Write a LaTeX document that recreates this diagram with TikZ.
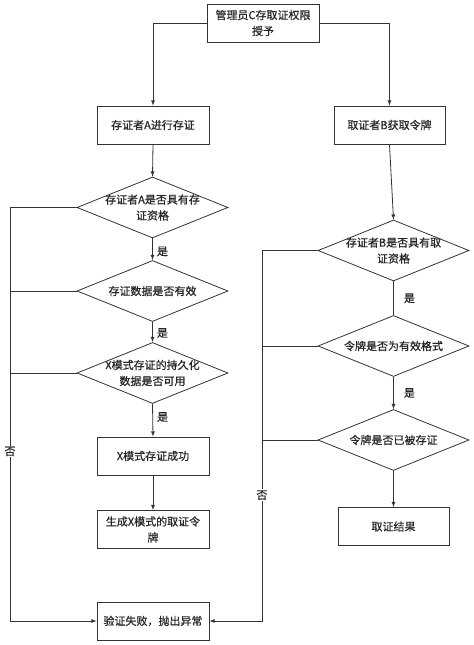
\documentclass[tikz,border=0pt]{standalone}
\usepackage{fontspec}
\setmainfont{Noto Sans CJK SC}[FakeBold=0.6]
\usepackage{tikz}
\usetikzlibrary{arrows,shapes.geometric}

\begin{document}
\begin{tikzpicture}[x=1bp,y=1bp,
		font=\fontsize{11bp}{16bp}\selectfont,
		box/.style={rectangle,draw=black!80,line width=0.8bp,minimum width=112bp,minimum height=38bp,align=center,inner sep=2bp,text=black!85},
		decision/.style={diamond,draw=black!80,line width=0.8bp,minimum width=151bp,minimum height=61bp,inner sep=0pt},
		dtext/.style={align=center,text=black!85},
		line/.style={draw=black!80,line width=0.8bp},
		arr/.style={line,-latex},
		yes/.style={right,text=black!85,inner sep=4bp},
		no/.style={fill=white,inner sep=1bp,text=black!85}]
		\useasboundingbox (0,0) rectangle (474,645);
%		\draw[help lines,step=50] (0,0) grid (474,645);

		% store side
		\path (263,622) node(admin) [box] {管理员C存取证权限\\授予};
		\path (153,520) node(storeA) [box] {存证者A进行存证};
		\path (152.5,437.5) node(qualA) [decision,label={[dtext]center:存证者A是否具有存\\证资格}] {};
		\path (152.5,354) node(validA) [decision,label={[dtext]center:存证数据是否有效}] {};
		\path (152.5,272) node(persistA) [decision,label={[dtext]center:X模式存证的持久化\\数据是否可用}] {};
		\path (153,189) node(okA) [box] {X模式存证成功};
		\path (153,115.5) node(tokenA) [box] {生成X模式的取证令\\牌};
		\path (153,24) node(fail) [box] {验证失败，抛出异常};

		% fetch side
		\path (389.5,520) node(fetchB) [box,minimum width=111bp] {取证者B获取令牌};
		\path (393.5,394.5) node(qualB) [decision,label={[dtext]center:存证者B是否具有取\\证资格}] {};
		\path (393.5,299) node(formatB) [decision,label={[dtext]center:令牌是否为有效格式}] {};
		\path (393.5,205) node(usedB) [decision,label={[dtext]center:令牌是否已被存证}] {};
		\path (393.5,118.5) node(result) [box,minimum width=111bp] {取证结果};

		\path (10,437.5) coordinate (railA);
		\path (262,394.5) coordinate (railB);

		\draw[arr] (admin.west) -| (storeA.north);
		\draw[arr] (admin.east) -| (fetchB.north);

		\draw[arr] (storeA.south) -- (qualA.north);
		\draw[arr] (qualA.south) -- (validA.north) node[yes,pos=0.6] {是};
		\draw[arr] (validA.south) -- (persistA.north) node[yes,pos=0.55] {是};
		\draw[arr] (persistA.south) -- (okA.north) node[yes,pos=0.4] {是};
		\draw[arr] (okA.south) -- (tokenA.north);

		\draw[arr] (fetchB.south) -- (qualB.north);
		\draw[line] (qualB.south) -- (formatB.north) node[yes,pos=0.5,inner sep=10bp] {是};
		\draw[arr] (formatB.south) -- (usedB.north) node[yes,pos=0.5,inner sep=10bp] {是};
		\draw[arr] (usedB.south) -- (result.north);

		\draw[arr] (qualA.west) -- (railA) |- (fail.west) node[no,pos=0.295] {否};
		\draw[line] (validA.west) -- (validA.west -| railA);
		\draw[line] (persistA.west) -- (persistA.west -| railA);

		\draw[arr] (qualB.west) -- (railB) |- (fail.east) node[no,pos=0.33] {否};
		\draw[line] (formatB.west) -- (formatB.west -| railB);
		\draw[line] (usedB.west) -- (usedB.west -| railB);
	\end{tikzpicture}
\end{document}
